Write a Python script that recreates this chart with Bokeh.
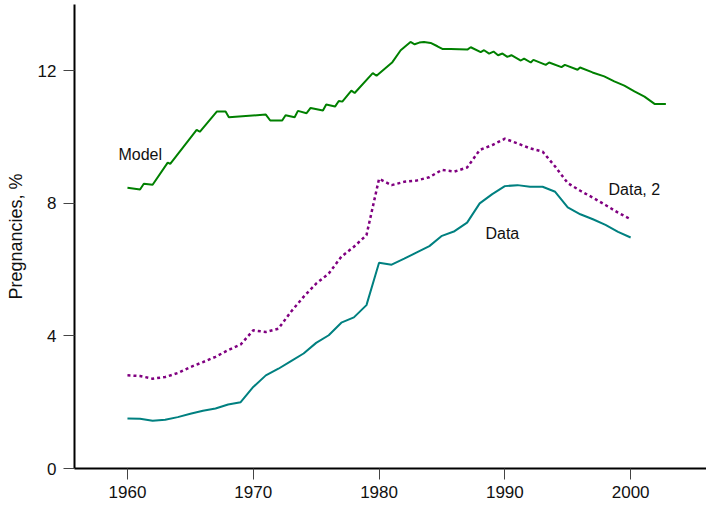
from bokeh.plotting import figure
from bokeh.models import Range1d, FixedTicker, ColumnDataSource
from bokeh.core.properties import value
from bokeh.embed import file_html
from bokeh.resources import INLINE

# ---- data ----
years = list(range(1960, 2001))
data_vals = [1.51, 1.50, 1.44, 1.47, 1.55, 1.65, 1.74, 1.81, 1.93, 2.00,
             2.46, 2.81, 3.01, 3.24, 3.47, 3.79, 4.02, 4.40, 4.56, 4.93,
             6.21, 6.15, 6.33, 6.52, 6.71, 7.02, 7.16, 7.42, 8.00, 8.28,
             8.52, 8.55, 8.50, 8.50, 8.35, 7.88, 7.67, 7.52, 7.35, 7.14,
             6.97]
data2_vals = [2.81, 2.79, 2.71, 2.76, 2.88, 3.06, 3.21, 3.37, 3.57, 3.74,
              4.17, 4.12, 4.22, 4.73, 5.18, 5.58, 5.88, 6.39, 6.69, 7.04,
              8.74, 8.55, 8.65, 8.69, 8.79, 9.01, 8.96, 9.08, 9.61, 9.76,
              9.95, 9.81, 9.66, 9.56, 9.11, 8.61, 8.38, 8.17, 7.95, 7.72,
              7.52]
model_years = [1960.0, 1961.0, 1961.3, 1962.0, 1963.2, 1963.4, 1965.5, 1965.75,
               1967.1, 1967.8, 1968.06, 1971.0, 1971.35, 1972.3, 1972.57, 1973.29,
               1973.55, 1974.24, 1974.56, 1975.54, 1975.8, 1976.5, 1976.8, 1977.08,
               1977.8, 1978.06, 1979.5, 1979.8, 1981.06, 1981.72, 1982.5, 1982.83,
               1983.2, 1983.57, 1984.1, 1984.64, 1985.03, 1985.7, 1987.02, 1987.29,
               1988.08, 1988.35, 1988.75, 1989.1, 1989.46, 1989.81, 1990.2, 1990.52,
               1991.27, 1991.53, 1992.06, 1992.27, 1993.25, 1993.52, 1994.5, 1994.77,
               1995.78, 1995.98, 1996.97, 1997.9, 1998.7, 1999.5, 2000.3, 2001.1,
               2001.9, 2002.8]
model_vals = [8.47, 8.42, 8.59, 8.56, 9.23, 9.19, 10.22, 10.16,
              10.77, 10.77, 10.60, 10.68, 10.50, 10.50, 10.66, 10.60,
              10.79, 10.72, 10.88, 10.80, 10.98, 10.92, 11.09, 11.07,
              11.40, 11.33, 11.93, 11.85, 12.26, 12.62, 12.87, 12.80,
              12.85, 12.87, 12.84, 12.74, 12.66, 12.66, 12.64, 12.71,
              12.56, 12.62, 12.52, 12.58, 12.47, 12.52, 12.42, 12.47,
              12.31, 12.37, 12.25, 12.33, 12.18, 12.25, 12.11, 12.18,
              12.03, 12.10, 11.95, 11.83, 11.68, 11.55, 11.38, 11.22,
              11.00, 11.00]
label_text = ["Model", "Data, 2", "Data"]
label_x = [1959.28, 1998.24, 1988.46]
label_y = [9.47, 8.43, 7.08]
x_ticks = [1960, 1970, 1980, 1990, 2000]
y_ticks = [0, 4, 8, 12]

FONT = "Liberation Sans"

p = figure(output_backend="svg", toolbar_location=None,
           frame_width=632, frame_height=464,
           min_border_left=74, min_border_right=0, min_border_top=4, min_border_bottom=37,
           x_range=Range1d(1955.79, 2006.03), y_range=Range1d(0, 14.0))
p.outline_line_color = None
p.grid.grid_line_color = None
p.background_fill_color = "white"
p.border_fill_color = "white"

p.line(model_years, model_vals, line_color="#008000", line_width=2)
p.line(years, data_vals, line_color="#008080", line_width=2)
p.line(years, data2_vals, line_color="#800080", line_width=2.5, line_dash="3 3")

src = ColumnDataSource(dict(x=label_x, y=label_y, t=label_text))
p.text(x="x", y="y", text="t", source=src, text_font=value(FONT),
       text_font_size="16px", text_baseline="middle", text_align="left",
       text_color="#111111")

for ax in (p.xaxis[0], p.yaxis[0]):
    ax.axis_line_color = "black"
    ax.axis_line_width = 2
    ax.major_tick_line_color = "#444444"
    ax.major_tick_line_width = 1
    ax.major_tick_out = 11
    ax.major_tick_in = 0
    ax.minor_tick_line_color = None
    ax.major_label_text_font = FONT
    ax.major_label_text_font_size = "17px"
    ax.major_label_text_color = "#111111"

p.xaxis.ticker = FixedTicker(ticks=x_ticks)
p.yaxis.ticker = FixedTicker(ticks=y_ticks)
p.xaxis.major_label_standoff = 6
p.yaxis.major_label_standoff = 7
p.yaxis.axis_label = "Pregnancies, %"
p.yaxis.axis_label_text_font = FONT
p.yaxis.axis_label_text_font_size = "18px"
p.yaxis.axis_label_text_font_style = "normal"
p.yaxis.axis_label_text_color = "#111111"
p.yaxis.axis_label_standoff = 9

open("out.html", "w").write(file_html(p, INLINE))
